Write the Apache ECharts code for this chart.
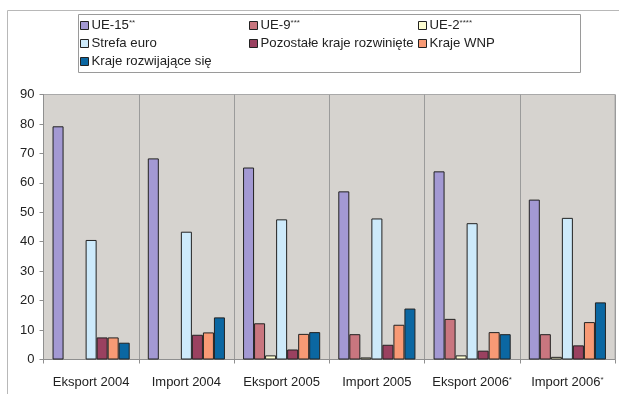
<!DOCTYPE html>
<html>
<head>
<meta charset="utf-8">
<script src="https://cdn.jsdelivr.net/npm/echarts@6/dist/echarts.min.js"></script>
<style>
  html, body { margin: 0; padding: 0; background: #fff; }
  #chart { width: 619px; height: 394px; }
</style>
</head>
<body>
<div id="chart"></div>
<script>
// Categories along the x axis
const categories = ['Eksport 2004', 'Import 2004', 'Eksport 2005', 'Import 2005', 'Eksport 2006*', 'Import 2006*'];

// Share of trade by partner group (%); null = no data for that year
const ue15        = [79.2, 68.3, 65.2, 57.1, 63.9, 54.3];
const ue9         = [null, null, 12.3, 8.6,  13.8, 8.6];
const ue2         = [null, null, 1.4,  0.7,  1.4,  0.9];
const strefaEuro  = [40.6, 43.4, 47.6, 47.9, 46.3, 48.1];
const pozostale   = [7.5,  8.4,  3.4,  5.0,  3.0,  4.8];
const krajeWNP    = [7.5,  9.2,  8.7,  11.8, 9.3,  12.7];
const rozwijajace = [5.7,  14.3, 9.3,  17.3, 8.6,  19.4];

// Y axis ticks
const yTicks = [0, 10, 20, 30, 40, 50, 60, 70, 80, 90];

const seriesNames = ['UE-15**', 'UE-9***', 'UE-2****', 'Strefa euro', 'Pozostałe kraje rozwinięte', 'Kraje WNP', 'Kraje rozwijające się'];
const seriesData = [ue15, ue9, ue2, strefaEuro, pozostale, krajeWNP, rozwijajace];
const colors = ['#a399d3', '#c9767f', '#ffffd2', '#cdeafb', '#9a4160', '#f89a75', '#0b67a2'];

const font = 'Liberation Sans, Arial, sans-serif';

// Put asterisks in a small raised style
function starRich(name) {
  const m = name.match(/^(.*?)(\*+)$/);
  return m ? m[1] + '{s|' + m[2] + '}' : name;
}
const richStar = { s: { fontSize: 8, fontFamily: font, color: '#333', padding: [0, 0, 5, 0] } };

// Legend entries placed in a 3-column grid
const legendPos = [
  [80, 19], [249, 19], [418, 19],
  [80, 37], [249, 37], [418, 37],
  [80, 55]
];
const legends = seriesNames.map((n, i) => ({
  data: [n],
  left: legendPos[i][0],
  top: legendPos[i][1],
  icon: 'rect',
  itemWidth: 8,
  itemHeight: 8,
  itemGap: 3,
  padding: 0,
  selectedMode: false,
  itemStyle: { borderColor: '#222', borderWidth: 1 },
  formatter: starRich,
  textStyle: { fontFamily: font, fontSize: 13.2, color: '#222', padding: [0, 0, 0, -2], rich: richStar }
}));

const yStep = yTicks[1] - yTicks[0];

const chart = echarts.init(document.getElementById('chart'), null, { renderer: 'canvas' });
chart.setOption({
  animation: false,
  backgroundColor: '#fff',
  textStyle: { fontFamily: font },
  graphic: [
    // outer chart frame (top and left edges visible)
    { type: 'polyline', shape: { points: [[7.5, 394], [7.5, 10.5], [619, 10.5]] }, style: { stroke: '#b8b8b8', lineWidth: 1, fill: null } },
    // legend box
    { type: 'rect', shape: { x: 78.5, y: 14.5, width: 502, height: 58 }, style: { stroke: '#9a9a9a', lineWidth: 1, fill: '#fff' }, z: -1 }
  ],
  legend: legends,
  grid: {
    left: 43.5, right: 4, top: 94.5, bottom: 34.5,
    show: true, backgroundColor: '#d6d3cf', borderColor: '#a9a9a9', borderWidth: 1
  },
  xAxis: {
    type: 'category',
    data: categories,
    axisLine: { show: true, lineStyle: { color: '#8f8f8f' } },
    axisTick: { show: true, interval: 0, length: 4, lineStyle: { color: '#8f8f8f' } },
    splitLine: { show: true, interval: 0, lineStyle: { color: '#9b9b9b', width: 1 } },
    axisLabel: {
      interval: 0,
      fontSize: 13, color: '#222', fontFamily: font, margin: 16,
      formatter: starRich, rich: richStar
    }
  },
  yAxis: {
    type: 'value',
    min: yTicks[0],
    max: yTicks[yTicks.length - 1],
    interval: yStep,
    axisLine: { show: true, lineStyle: { color: '#8f8f8f' } },
    axisTick: { show: true, length: 4, lineStyle: { color: '#8f8f8f' } },
    splitLine: { show: false },
    axisLabel: { fontSize: 13, color: '#222', fontFamily: font, margin: 9 }
  },
  series: seriesNames.map((n, i) => ({
    name: n,
    type: 'bar',
    data: seriesData[i],
    barGap: '0%',
    barCategoryGap: '19%',
    itemStyle: { color: colors[i], borderColor: '#222', borderWidth: 1 }
  }))
});
</script>
</body>
</html>
